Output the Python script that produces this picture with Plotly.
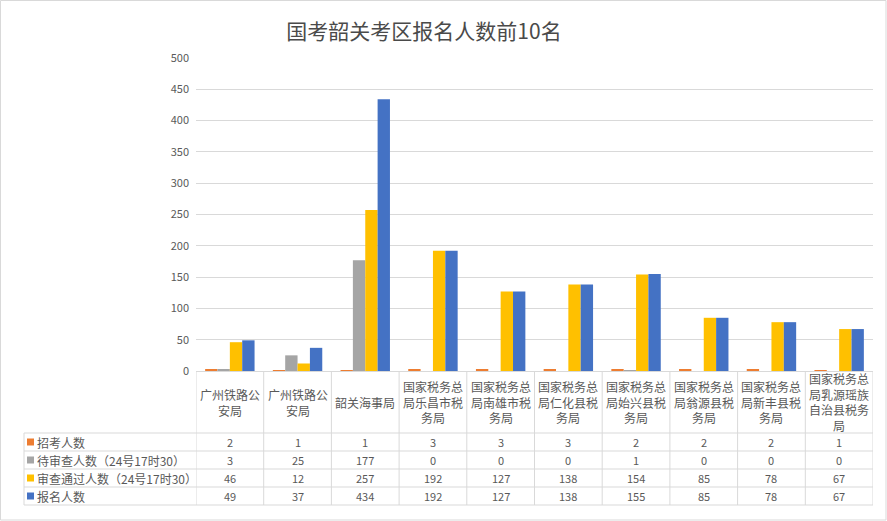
import plotly.graph_objects as go

categories = ["广州铁路公安局", "广州铁路公安局", "韶关海事局", "国家税务总局乐昌市税务局",
              "国家税务总局南雄市税务局", "国家税务总局仁化县税务局", "国家税务总局始兴县税务局",
              "国家税务总局翁源县税务局", "国家税务总局新丰县税务局", "国家税务总局乳源瑶族自治县税务局"]
series_names = ["招考人数", "待审查人数（24号17时30）", "审查通过人数（24号17时30）", "报名人数"]
zhaokao = [2, 1, 1, 3, 3, 3, 2, 2, 2, 1]
daishencha = [3, 25, 177, 0, 0, 0, 1, 0, 0, 0]
tongguo = [46, 12, 257, 192, 127, 138, 154, 85, 78, 67]
baoming = [49, 37, 434, 192, 127, 138, 155, 85, 78, 67]
y_ticks = [0, 50, 100, 150, 200, 250, 300, 350, 400, 450, 500]

colors = ["#ED7D31", "#A5A5A5", "#FFC000", "#4472C4"]
series_vals = [zhaokao, daishencha, tongguo, baoming]

W, H = 887, 521
L, R, T, B = 196, 873, 58, 371
PW, PH = R - L, B - T
FONT = "Noto Sans CJK SC"
TXT = "#595959"
GRID = "#D9D9D9"


def px_x(X):
    return (X - L) / PW


def px_y(Y):
    return (B - Y) / PH


def wrap(s, n=5):
    return "<br>".join(s[i:i + n] for i in range(0, len(s), n))


xs = list(range(len(categories)))
fig = go.Figure()
for name, vals, c in zip(series_names, series_vals, colors):
    fig.add_trace(go.Bar(x=xs, y=vals, name=name, marker_color=c, marker_line_width=0))

shapes = []
annotations = []
# outer border
shapes.append(dict(type="rect", xref="paper", yref="paper", x0=px_x(0.5), x1=px_x(886), y0=px_y(520), y1=px_y(0.5),
                   line=dict(color=GRID, width=1), fillcolor="rgba(0,0,0,0)", layer="below"))
# table verticals
for i in range(len(categories) + 1):
    shapes.append(dict(type="line", xref="x", yref="paper", x0=i - 0.5, x1=i - 0.5, y0=0, y1=px_y(505),
                       line=dict(color=GRID, width=1)))
shapes.append(dict(type="line", xref="paper", yref="paper", x0=px_x(24), x1=px_x(24), y0=px_y(433), y1=px_y(505),
                   line=dict(color=GRID, width=1)))
row_lines = [433, 451, 469, 487, 505]
for Y in row_lines:
    shapes.append(dict(type="line", xref="paper", yref="paper", x0=px_x(24), x1=1, y0=px_y(Y), y1=px_y(Y),
                       line=dict(color=GRID, width=1)))

# category header labels
for i, c in enumerate(categories):
    annotations.append(dict(x=i, y=px_y(402), xref="x", yref="paper", text=wrap(c), showarrow=False,
                            font=dict(family=FONT, size=12, color=TXT), align="center",
                            xanchor="center", yanchor="middle"))
# table rows
for r, (name, vals, col) in enumerate(zip(series_names, series_vals, colors)):
    yc = (row_lines[r] + row_lines[r + 1]) / 2
    shapes.append(dict(type="rect", xref="paper", yref="paper", x0=px_x(27), x1=px_x(34),
                       y0=px_y(yc + 3.5), y1=px_y(yc - 3.5), fillcolor=col, line=dict(width=0)))
    annotations.append(dict(x=px_x(35), y=px_y(yc), xref="paper", yref="paper", text=name, showarrow=False,
                            font=dict(family=FONT, size=12, color=TXT), xanchor="left", yanchor="middle"))
    for i, v in enumerate(vals):
        annotations.append(dict(x=i, y=px_y(yc), xref="x", yref="paper", text=str(v), showarrow=False,
                                font=dict(family=FONT, size=11, color=TXT), xanchor="center", yanchor="middle"))

fig.update_layout(
    width=W, height=H,
    margin=dict(l=L, r=W - R, t=T, b=H - B, pad=0),
    paper_bgcolor="white", plot_bgcolor="white",
    barmode="group", bargap=0.27, bargroupgap=0,
    showlegend=False,
    title=dict(text="国考韶关考区报名人数前10名", x=424 / W, xanchor="center", y=1 - 32 / H, yanchor="middle",
               font=dict(family=FONT, size=21, color="#4a4a4a")),
    xaxis=dict(range=[-0.5, len(categories) - 0.5], showticklabels=False, showgrid=False, zeroline=False,
               showline=True, linecolor=GRID, linewidth=1, fixedrange=True),
    yaxis=dict(range=[0, 500], tickvals=y_ticks, showgrid=True, gridcolor=GRID, gridwidth=1, zeroline=False,
               showline=False, tickfont=dict(family=FONT, size=11, color=TXT), ticks="", ticklabelstandoff=6),
    shapes=shapes, annotations=annotations,
)
fig.write_html("out.html", config={"displayModeBar": False},
               post_script="document.body.style.margin='0';document.body.style.overflow='hidden';")
